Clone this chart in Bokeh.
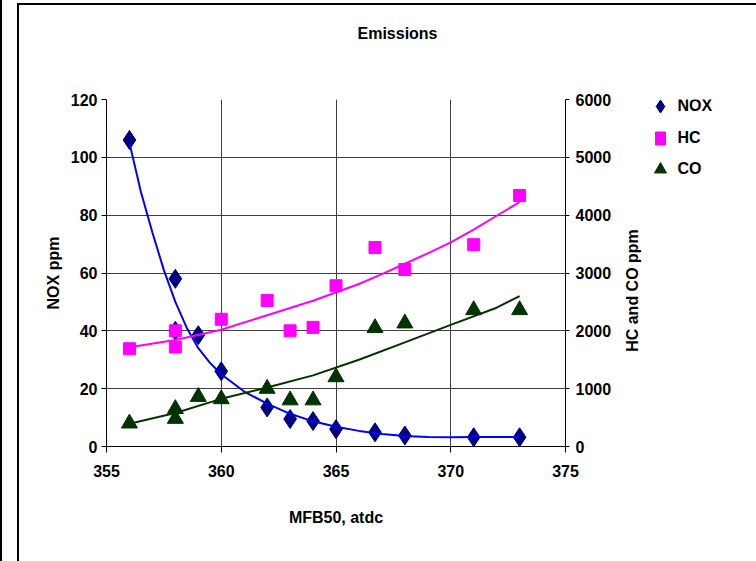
import math
from bokeh.plotting import figure
from bokeh.layouts import column, row
from bokeh.models import Range1d, LinearAxis, FixedTicker
from bokeh.core.properties import value
from bokeh.embed import file_html
from bokeh.resources import INLINE

# ---- data ----
nox_x = [356, 358, 358, 359, 360, 362, 363, 364, 365, 366.7, 368, 371, 373]
nox_y = [106, 58, 40, 38.5, 26, 13.5, 9.5, 8.8, 6, 4.9, 3.8, 3.2, 3.2]

hc_x = [356, 358, 358, 360, 362, 363, 364, 365, 366.7, 368, 371, 373]
hc_y = [1690, 2000, 1720, 2200, 2525, 2000, 2060, 2780, 3440, 3060, 3490, 4340]

co_x = [356, 358, 358, 359, 360, 362, 363, 364, 365, 366.7, 368, 371, 373]
co_y = [400, 650, 480, 860, 820, 1000, 800, 800, 1200, 2050, 2130, 2360, 2360]

# trendlines
nox_trend_x = [356, 356.5, 357, 357.5, 358, 358.5, 359, 359.5, 360, 361, 362, 363,
               364, 365, 366, 367, 368, 369, 370, 371, 372, 373]
nox_trend_y = [105, 88, 74, 61, 50, 41, 34, 29, 25, 19, 14.8, 11.3,
               8.7, 6.8, 5.4, 4.3, 3.6, 3.3, 3.2, 3.3, 3.3, 3.3]

hc_trend_x = [356, 358, 360, 362, 364, 366, 367, 368, 369, 370, 371, 372, 373]
hc_trend_y = [1717, 1840, 2020, 2270, 2520, 2810, 2980, 3160, 3340, 3530, 3750, 3990, 4225]

co_trend_x = [356, 358, 360, 362, 364, 366, 368, 370, 372, 373]
co_trend_y = [392, 580, 824, 1020, 1230, 1500, 1800, 2104, 2400, 2600]

x_ticks = [355, 360, 365, 370, 375]
left_ticks = [0, 20, 40, 60, 80, 100, 120]
right_ticks = [0, 1000, 2000, 3000, 4000, 5000, 6000]

series_names = ["NOX", "HC", "CO"]
title_text = "Emissions"
x_label = "MFB50, atdc"
left_label = "NOX ppm"
right_label = "HC and CO ppm"

FONT = "Liberation Sans"
NAVY = "#000080"
MAGENTA = "#FF00FF"
GREEN = "#003300"


def bare(w, h, xr, yr):
    f = figure(width=w, height=h, x_range=Range1d(*xr), y_range=Range1d(*yr),
               output_backend="svg", toolbar_location=None, title=None,
               x_axis_location=None, y_axis_location=None, min_border=0)
    f.xgrid.visible = False
    f.ygrid.visible = False
    f.outline_line_color = None
    f.background_fill_color = "white"
    f.border_fill_color = "white"
    return f


def txt(f, x, y, s, angle=0.0, align="center"):
    f.text(x=[x], y=[y], text=[s], angle=angle, text_align=align, text_baseline="middle",
           text_font=value(FONT), text_font_style="bold", text_font_size="16px",
           text_color="black")


# ---- title strip (page pixels: x 19..756, y 5..55) ----
tf = bare(737, 50, (19, 756), (-55, -5))
txt(tf, 397, -33, title_text)

# ---- main chart (frame at page x 106..565, y 99..446) ----
p = figure(width=599, height=506, x_range=Range1d(355, 375), y_range=Range1d(0, 120),
           output_backend="svg", toolbar_location=None, title=None,
           min_border_left=87, min_border_right=53, min_border_top=44, min_border_bottom=115)
p.extra_y_ranges = {"ppm": Range1d(0, 6000)}
p.outline_line_color = None
p.background_fill_color = "white"
p.border_fill_color = "white"

p.xgrid.ticker = FixedTicker(ticks=x_ticks)
p.ygrid.ticker = FixedTicker(ticks=left_ticks)
for g in (p.xgrid, p.ygrid):
    g.grid_line_color = "#404040"
    g.grid_line_width = 1


def style_axis(ax):
    ax.axis_line_color = "black"
    ax.axis_line_width = 1
    ax.major_tick_line_color = "black"
    ax.major_tick_in = 0
    ax.major_tick_out = 5
    ax.minor_tick_line_color = None
    ax.major_label_text_font = FONT
    ax.major_label_text_font_style = "bold"
    ax.major_label_text_font_size = "16px"
    ax.major_label_text_color = "black"
    ax.axis_label_text_font = FONT
    ax.axis_label_text_font_style = "bold"
    ax.axis_label_text_font_size = "16px"
    ax.axis_label_text_color = "black"


xa = p.xaxis[0]
style_axis(xa)
xa.ticker = FixedTicker(ticks=x_ticks)
xa.major_tick_out = 6
xa.major_label_standoff = 12
xa.axis_label = x_label
xa.axis_label_standoff = 29

ya = p.yaxis[0]
style_axis(ya)
ya.ticker = FixedTicker(ticks=left_ticks)
ya.major_label_standoff = 4
ya.axis_label = left_label
ya.axis_label_standoff = 6

ra = LinearAxis(y_range_name="ppm", ticker=FixedTicker(ticks=right_ticks))
style_axis(ra)
ra.major_tick_out = 4
ra.major_label_standoff = 6
p.add_layout(ra, "right")

# markers
p.scatter(nox_x, nox_y, marker="diamond", size=19, fill_color=NAVY, line_color=NAVY)
p.scatter(hc_x, hc_y, marker="square", size=12, fill_color=MAGENTA, line_color=MAGENTA,
          y_range_name="ppm")
p.scatter(co_x, co_y, marker="triangle", size=16, fill_color=GREEN, line_color=GREEN,
          y_range_name="ppm")

# trendlines
p.line(nox_trend_x, nox_trend_y, line_color="#0000FF", line_width=2)
p.line(hc_trend_x, hc_trend_y, line_color=MAGENTA, line_width=2, y_range_name="ppm")
p.line(co_trend_x, co_trend_y, line_color=GREEN, line_width=2, y_range_name="ppm")

# ---- side strip with right-axis title and legend ----
# its frame is aligned with the main frame, so it maps page y 99..446
lg = bare(138, 506, (618, 756), (-446, -99))
txt(lg, 632, -290, right_label, angle=math.pi / 2)
lg.scatter([660], [-106], marker="diamond", size=13, fill_color=NAVY, line_color=NAVY)
lg.rect([660], [-138], width=10, height=13, fill_color=MAGENTA, line_color=MAGENTA)
lg.scatter([660], [-169], marker="triangle", size=12, fill_color=GREEN, line_color=GREEN)
for name, yy in zip(series_names, [-105, -137, -168]):
    txt(lg, 677, yy, name, align="left")

inner = column(tf, row(p, lg, spacing=0), spacing=0,
               styles={"border-left": "2px solid black", "border-top": "2px solid black",
                       "margin-left": "15px", "margin-top": "3px", "overflow": "hidden"})
layout = column(inner, styles={"border-left": "2px solid black", "overflow": "hidden"})

open("out.html", "w").write(file_html(layout, INLINE))
